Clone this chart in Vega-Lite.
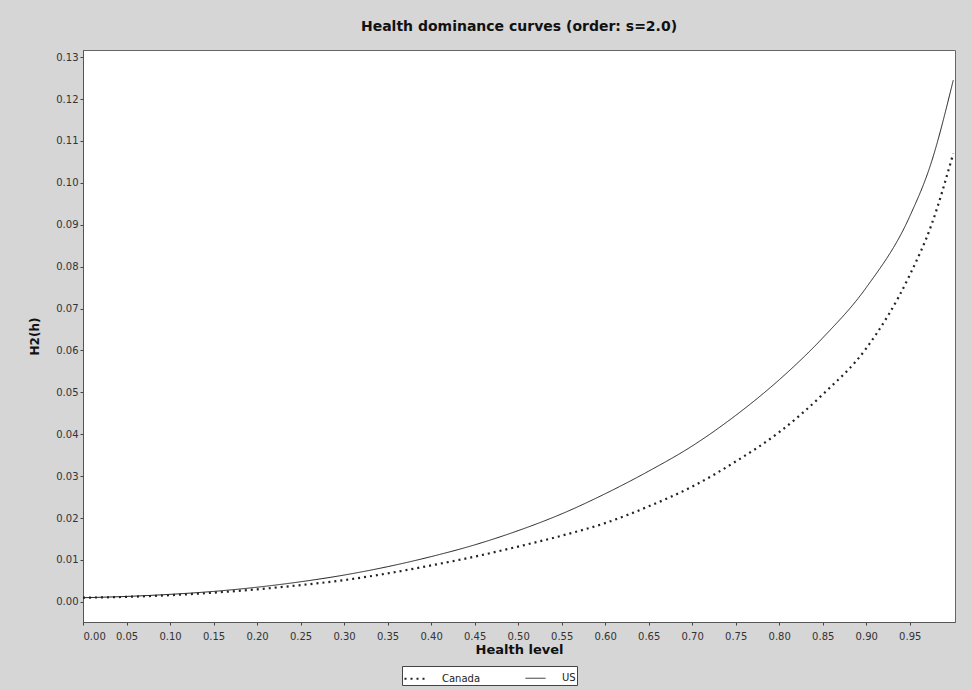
{
  "$schema": "https://vega.github.io/schema/vega-lite/v6.json",
  "width": 872,
  "height": 572,
  "autosize": {"type": "none"},
  "padding": {"left": 83, "top": 50, "right": 17, "bottom": 68},
  "background": "#d6d6d6",
  "title": {
    "text": "Health dominance curves (order: s=2.0)",
    "font": "DejaVu Sans",
    "fontSize": 14,
    "fontWeight": "bold",
    "color": "#111",
    "anchor": "middle",
    "offset": 16
  },
  "config": {
    "view": {"fill": "white", "stroke": "#666", "strokeWidth": 1},
    "axis": {
      "labelFont": "DejaVu Sans",
      "labelFontSize": 10,
      "labelColor": "#333",
      "titleFont": "DejaVu Sans",
      "titleFontWeight": "bold",
      "titleColor": "#111",
      "grid": false,
      "domainColor": "#555",
      "tickColor": "#444",
      "tickSize": 3
    }
  },
  "data": {
    "values": [
      {"h": 0.00, "v": 0.0010, "s": "Canada"},
      {"h": 0.05, "v": 0.0012, "s": "Canada"},
      {"h": 0.10, "v": 0.0016, "s": "Canada"},
      {"h": 0.15, "v": 0.0022, "s": "Canada"},
      {"h": 0.20, "v": 0.0030, "s": "Canada"},
      {"h": 0.25, "v": 0.0040, "s": "Canada"},
      {"h": 0.30, "v": 0.0052, "s": "Canada"},
      {"h": 0.35, "v": 0.0068, "s": "Canada"},
      {"h": 0.40, "v": 0.0087, "s": "Canada"},
      {"h": 0.45, "v": 0.0108, "s": "Canada"},
      {"h": 0.50, "v": 0.0132, "s": "Canada"},
      {"h": 0.55, "v": 0.0158, "s": "Canada"},
      {"h": 0.60, "v": 0.0188, "s": "Canada"},
      {"h": 0.65, "v": 0.0228, "s": "Canada"},
      {"h": 0.70, "v": 0.0275, "s": "Canada"},
      {"h": 0.75, "v": 0.0335, "s": "Canada"},
      {"h": 0.80, "v": 0.0405, "s": "Canada"},
      {"h": 0.85, "v": 0.0495, "s": "Canada"},
      {"h": 0.90, "v": 0.0605, "s": "Canada"},
      {"h": 0.95, "v": 0.0780, "s": "Canada"},
      {"h": 0.975, "v": 0.0900, "s": "Canada"},
      {"h": 1.00, "v": 0.1070, "s": "Canada"},
      {"h": 0.00, "v": 0.0010, "s": "US"},
      {"h": 0.05, "v": 0.0013, "s": "US"},
      {"h": 0.10, "v": 0.0018, "s": "US"},
      {"h": 0.15, "v": 0.0025, "s": "US"},
      {"h": 0.20, "v": 0.0035, "s": "US"},
      {"h": 0.25, "v": 0.0048, "s": "US"},
      {"h": 0.30, "v": 0.0064, "s": "US"},
      {"h": 0.35, "v": 0.0084, "s": "US"},
      {"h": 0.40, "v": 0.0108, "s": "US"},
      {"h": 0.45, "v": 0.0136, "s": "US"},
      {"h": 0.50, "v": 0.0170, "s": "US"},
      {"h": 0.55, "v": 0.0210, "s": "US"},
      {"h": 0.60, "v": 0.0258, "s": "US"},
      {"h": 0.65, "v": 0.0312, "s": "US"},
      {"h": 0.70, "v": 0.0372, "s": "US"},
      {"h": 0.75, "v": 0.0445, "s": "US"},
      {"h": 0.80, "v": 0.0530, "s": "US"},
      {"h": 0.85, "v": 0.0630, "s": "US"},
      {"h": 0.90, "v": 0.0750, "s": "US"},
      {"h": 0.95, "v": 0.0920, "s": "US"},
      {"h": 0.975, "v": 0.1050, "s": "US"},
      {"h": 1.00, "v": 0.1245, "s": "US"}
    ]
  },
  "mark": {"type": "line", "interpolate": "monotone", "color": "#222", "clip": true},
  "encoding": {
    "x": {
      "field": "h",
      "type": "quantitative",
      "title": "Health level",
      "scale": {"domain": [0, 1.002], "nice": false, "zero": false},
      "axis": {
        "values": [0, 0.05, 0.1, 0.15, 0.2, 0.25, 0.3, 0.35, 0.4, 0.45, 0.5, 0.55, 0.6, 0.65, 0.7, 0.75, 0.8, 0.85, 0.9, 0.95],
        "format": ".2f",
        "labelPadding": 6,
        "titlePadding": 2,
        "titleFontSize": 13
      }
    },
    "y": {
      "field": "v",
      "type": "quantitative",
      "title": "H2(h)",
      "scale": {"domain": [-0.0048, 0.1317], "nice": false, "zero": false},
      "axis": {
        "values": [0, 0.01, 0.02, 0.03, 0.04, 0.05, 0.06, 0.07, 0.08, 0.09, 0.1, 0.11, 0.12, 0.13],
        "format": ".2f",
        "labelPadding": 2,
        "titlePadding": 14,
        "titleFontSize": 12
      }
    },
    "strokeDash": {
      "field": "s",
      "type": "nominal",
      "scale": {"domain": ["Canada", "US"], "range": [[2, 4], [1, 0]]},
      "legend": {
        "title": null,
        "orient": "none",
        "direction": "horizontal",
        "legendX": 319,
        "legendY": 616,
        "symbolType": "stroke",
        "symbolStrokeColor": "#222",
        "symbolStrokeWidth": 2,
        "symbolSize": 400,
        "labelOffset": 16,
        "labelFont": "DejaVu Sans",
        "labelFontSize": 10,
        "labelColor": "#222",
        "fillColor": "white",
        "strokeColor": "#444",
        "padding": 1,
        "columnPadding": 42
      }
    },
    "strokeWidth": {
      "field": "s",
      "type": "nominal",
      "scale": {"domain": ["Canada", "US"], "range": [2.2, 1]},
      "legend": null
    }
  }
}
